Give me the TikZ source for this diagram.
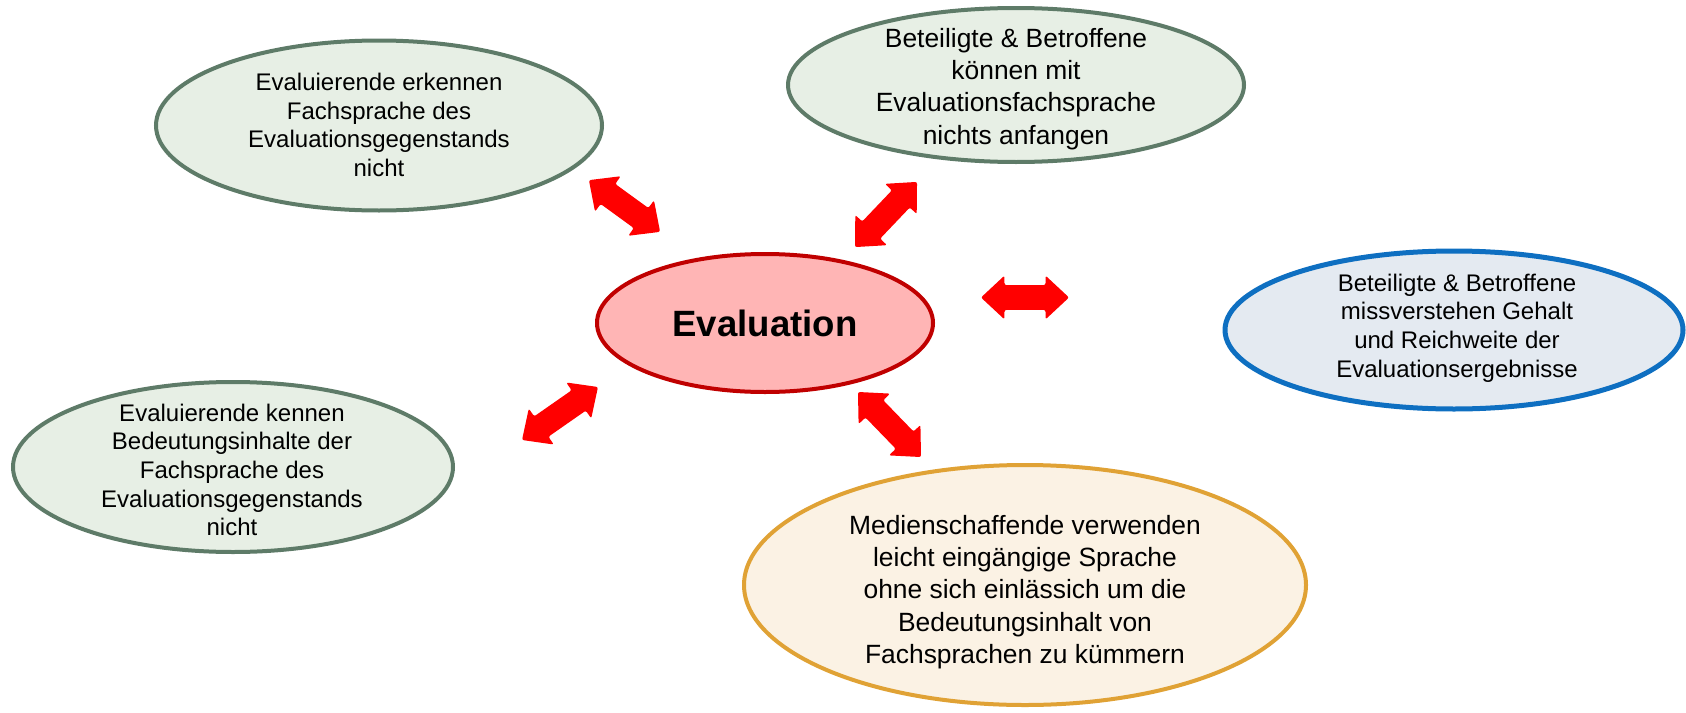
\documentclass[tikz,border=0pt]{standalone}
\usepackage{fontspec}
\setmainfont{Liberation Sans}
\usetikzlibrary{shapes.geometric,shapes.arrows}
\definecolor{gborder}{HTML}{5E7B68}
\definecolor{gfill}{HTML}{E7EFE5}
\definecolor{bborder}{HTML}{0E6FC1}
\definecolor{bfill}{HTML}{E4EAF1}
\definecolor{oborder}{HTML}{E0A235}
\definecolor{ofill}{HTML}{FBF2E4}
\definecolor{cborder}{HTML}{C00000}
\definecolor{cfill}{HTML}{FFB5B5}
\definecolor{arrred}{HTML}{FF0000}
\tikzset{
  oval/.style={ellipse, inner sep=0pt, line width=2pt},
  greenoval/.style={oval, draw=gborder, fill=gfill},
  smalltext/.style={align=center, font=\fontsize{12pt}{14.3pt}\selectfont, inner sep=0pt},
  bigtext/.style={align=center, font=\fontsize{13.2pt}{16.1pt}\selectfont, inner sep=0pt},
  dblarrow/.style={double arrow, fill=arrred, draw=none, inner xsep=0pt, inner ysep=6pt,
    double arrow head extend=4.75pt, double arrow tip angle=86, rounded corners=1pt},
}
\begin{document}
\begin{tikzpicture}[x=0.5pt, y=-0.5pt]
\useasboundingbox (0,0) rectangle (1686,712);
% ovals
\node[greenoval, minimum width=223pt, minimum height=85pt] (e1) at (379,125.5) {};
\node[smalltext] (e1t) at (379,125) {Evaluierende erkennen\\Fachsprache des\\Evaluationsgegenstands\\nicht};
\node[greenoval, minimum width=228pt, minimum height=77pt] (e2) at (1016,85) {};
\node[bigtext] (e2t) at (1016,89) {Beteiligte \& Betroffene\\können mit\\Evaluationsfachsprache\\nichts anfangen};
\node[oval, line width=2.5pt, draw=bborder, fill=bfill, minimum width=229pt, minimum height=79pt] (e3) at (1454,330) {};
\node[smalltext] (e3t) at (1457,328) {Beteiligte \& Betroffene\\missverstehen Gehalt\\und Reichweite der\\Evaluationsergebnisse};
\node[greenoval, minimum width=220pt, minimum height=85pt] (e4) at (233,467) {};
\node[smalltext] (e4t) at (232,470) {Evaluierende kennen\\Bedeutungsinhalte der\\Fachsprache des\\Evaluationsgegenstands\\nicht};
\node[oval, draw=oborder, fill=ofill, minimum width=281pt, minimum height=120pt] (e5) at (1025,585) {};
\node[bigtext] (e5t) at (1025,592) {Medienschaffende verwenden\\leicht eingängige Sprache\\ohne sich einlässich um die\\Bedeutungsinhalt von\\Fachsprachen zu kümmern};
% center
\node[oval, draw=cborder, fill=cfill, minimum width=168pt, minimum height=69pt,
  font=\fontsize{18.3pt}{22pt}\selectfont\bfseries] (ev) at (765,323) {Evaluation};
% arrows
\node[dblarrow, minimum height=44pt, rotate=-36] (a1) at (624.5,206) {};
\node[dblarrow, minimum height=45pt, rotate=46.4] (a2) at (886,214.5) {};
\node[dblarrow, minimum height=44pt] (a3) at (1025,297.5) {};
\node[dblarrow, minimum height=46.3pt, rotate=34.9] (a4) at (560,413.5) {};
\node[dblarrow, minimum height=45.3pt, rotate=-45.9] (a5) at (889.5,424.5) {};
\end{tikzpicture}
\end{document}
